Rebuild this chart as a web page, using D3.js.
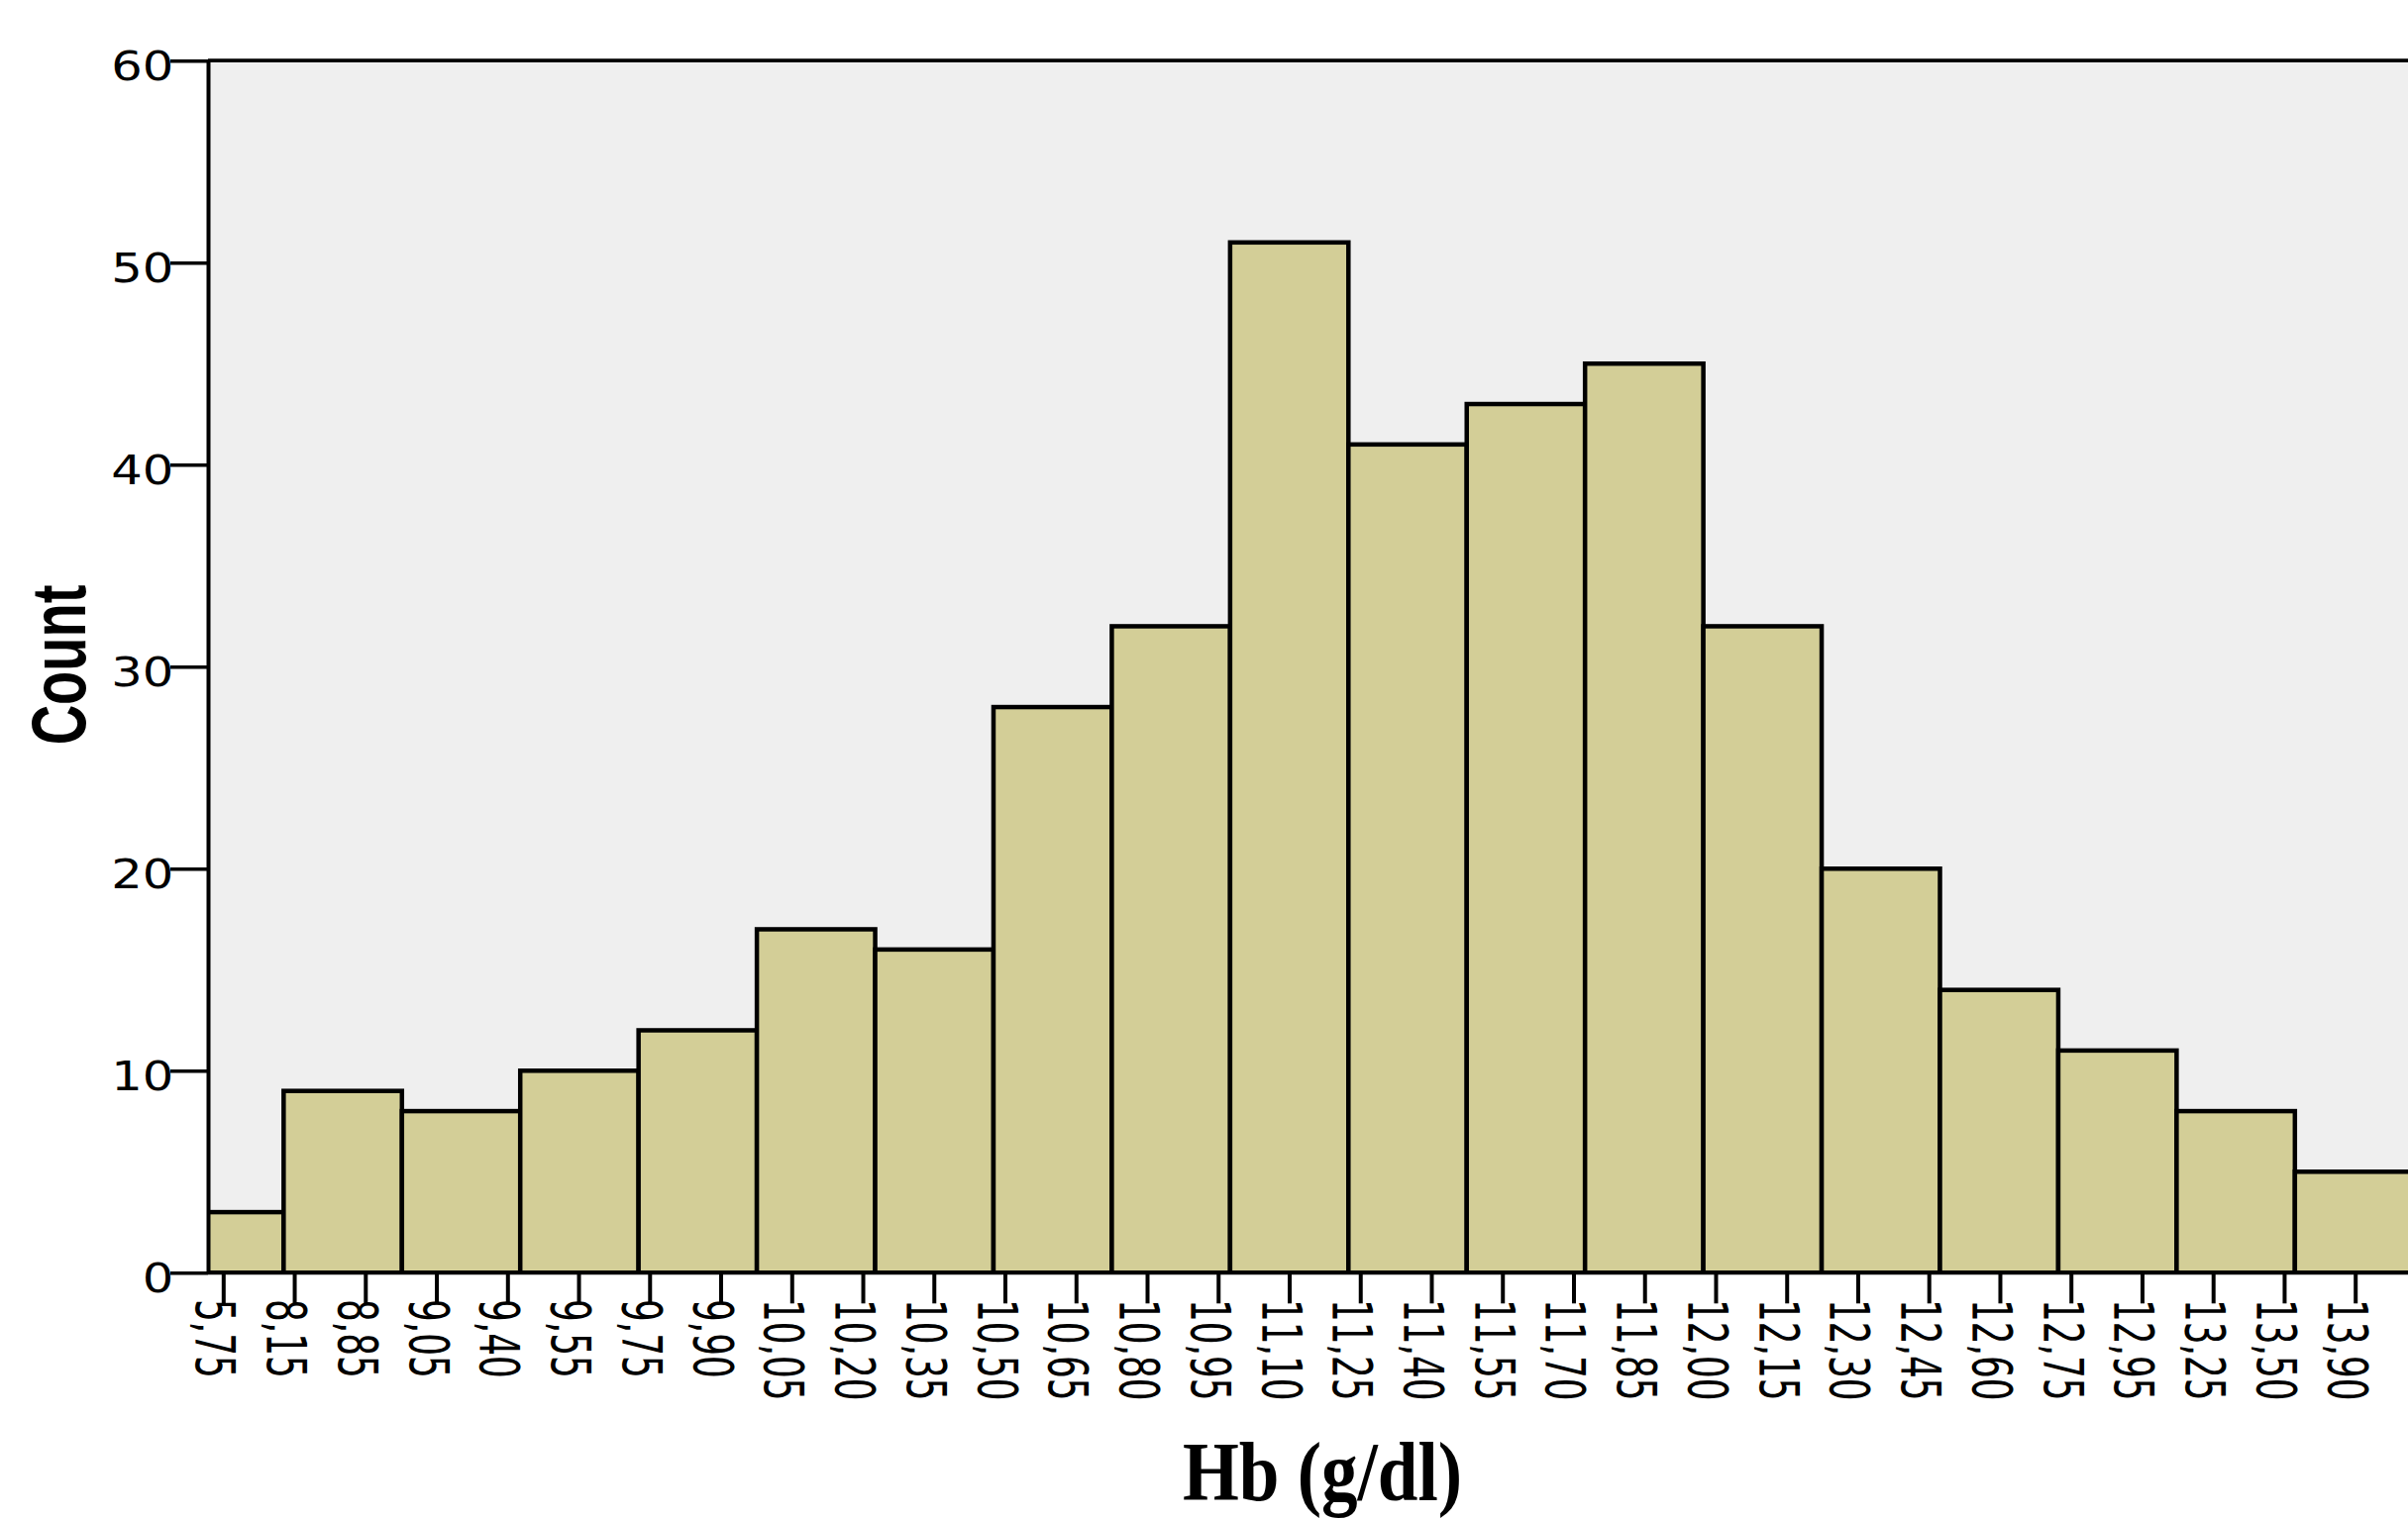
<!DOCTYPE html>
<html><head><meta charset="utf-8">
<script src="https://cdn.jsdelivr.net/npm/d3@7"></script>
<style>html,body{margin:0;padding:0;background:#fff;overflow:hidden}</style>
</head><body><svg id="c" width="2431" height="1535"></svg>
<script>
// ---- data ----
const counts = [3, 9, 8, 10, 12, 17, 16, 28, 32, 51, 41, 43, 45, 32, 20, 14, 11, 8, 5];
const tickLabels = ["5,75","8,15","8,85","9,05","9,40","9,55","9,75","9,90","10,05","10,20",
  "10,35","10,50","10,65","10,80","10,95","11,10","11,25","11,40","11,55","11,70","11,85",
  "12,00","12,15","12,30","12,45","12,60","12,75","12,95","13,25","13,50","13,90"];
const yTicks = [0, 10, 20, 30, 40, 50, 60];
const yTitle = "Count";
const xTitle = "Hb (g/dl)";

// ---- layout ----
const W = 2431, H = 1535;
const pLeft = 210, pTop = 61.2, pBottom = 1285.3, pRight = W;
const svg = d3.select("#c");

const y = d3.scaleLinear().domain([0, 60]).range([pBottom, pTop]);
const xBin = d3.scaleLinear().domain([0, counts.length]).range([166.9, 166.9 + counts.length * 119.44]);
const xTick = d3.scalePoint().domain(tickLabels).range([225.3, 2377.7]);

svg.append("rect").attr("x", pLeft).attr("y", pTop).attr("width", pRight - pLeft + 20)
  .attr("height", pBottom - pTop).attr("fill", "#efefef");

svg.append("defs").append("clipPath").attr("id", "clip")
  .append("rect").attr("x", pLeft).attr("y", 0).attr("width", 3000).attr("height", pBottom);

svg.append("g").attr("clip-path", "url(#clip)")
  .selectAll("rect").data(counts).join("rect")
  .attr("x", (d, i) => xBin(i))
  .attr("y", d => y(d))
  .attr("width", (d, i) => xBin(i + 1) - xBin(i))
  .attr("height", d => pBottom - y(d))
  .attr("fill", "#d3ce97")
  .attr("stroke", "#000")
  .attr("stroke-width", 4.5);

// top frame line
svg.append("line").attr("x1", pLeft).attr("x2", W + 10).attr("y1", pTop).attr("y2", pTop)
  .attr("stroke", "#000").attr("stroke-width", 3.8);
// x axis baseline
svg.append("line").attr("x1", pLeft).attr("x2", W + 10).attr("y1", pBottom).attr("y2", pBottom)
  .attr("stroke", "#000").attr("stroke-width", 4);

// y axis
const gy = svg.append("g").attr("transform", `translate(${pLeft},0)`)
  .call(d3.axisLeft(y).tickValues(yTicks).tickSize(38).tickSizeOuter(0).tickFormat(d3.format("d")));
gy.select(".domain").attr("stroke", "#000").attr("stroke-width", 4);
gy.selectAll(".tick line").attr("stroke", "#000").attr("stroke-width", 3.4);
gy.selectAll(".tick text")
  .attr("x", 0).attr("dy", null)
  .attr("transform", "translate(-34.7,19.5) scale(1.21,1)")
  .attr("text-anchor", "end")
  .attr("fill", "#000")
  .style("font-family", "'DejaVu Sans'")
  .style("font-size", "41px");

// x axis
const gx = svg.append("g").attr("transform", `translate(0,${pBottom})`)
  .call(d3.axisBottom(xTick).tickSize(31).tickSizeOuter(0));
gx.select(".domain").remove();
gx.selectAll(".tick line").attr("stroke", "#000").attr("stroke-width", 4);
gx.selectAll(".tick text")
  .attr("x", 0).attr("y", 0).attr("dy", null)
  .attr("transform", "translate(-27.5,26.7) rotate(90) scale(1,1.53)")
  .attr("text-anchor", "start")
  .attr("fill", "#000")
  .style("font-family", "'DejaVu Sans'")
  .style("font-size", "35.8px");

// titles
svg.append("text").text(yTitle)
  .attr("transform", "translate(86,671.5) rotate(-90) scale(1,1.4)")
  .attr("text-anchor", "middle")
  .style("font-family", "'Liberation Sans', Arial, sans-serif")
  .style("font-weight", "bold")
  .style("font-size", "56px");

svg.append("text").text(xTitle)
  .attr("transform", "translate(1335,1515) scale(0.87,1)")
  .attr("text-anchor", "middle")
  .style("font-family", "'Liberation Serif', 'Times New Roman', serif")
  .style("font-weight", "bold")
  .style("font-size", "84px");
</script>
</body></html>
